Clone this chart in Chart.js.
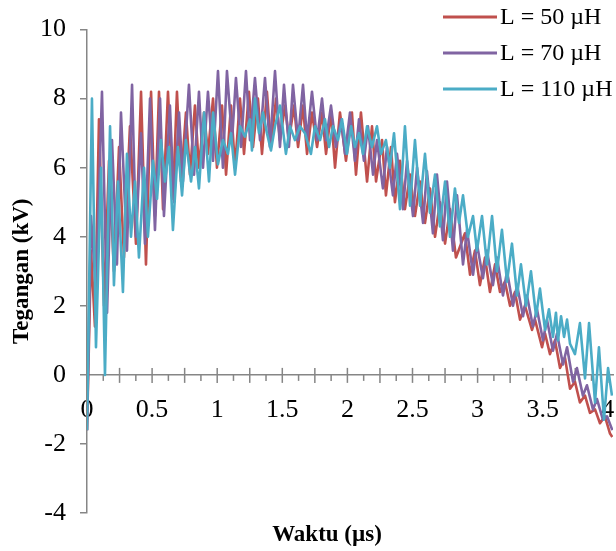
<!DOCTYPE html>
<html>
<head>
<meta charset="utf-8">
<script src="https://cdn.jsdelivr.net/npm/chart.js@4.4.1/dist/chart.umd.min.js"></script>
<style>
  html, body { margin: 0; padding: 0; background: #fff; }
  #wrap { width: 616px; height: 551px; }
</style>
</head>
<body>
<div id="wrap"><canvas id="chart"></canvas></div>
<script>
// series names
const seriesLabels = ['L = 50 µH', 'L = 70 µH', 'L = 110 µH'];

// L = 50 uH  (time in us, voltage in kV)
const time50 = [0.000, 0.031, 0.061, 0.092, 0.131, 0.169, 0.207, 0.246, 0.284, 0.330, 0.376, 0.415, 0.453, 0.492, 0.522, 0.553, 0.584, 0.622, 0.660, 0.691,
  0.722, 0.760, 0.791, 0.829, 0.860, 0.899, 0.929, 0.968, 0.998, 1.037, 1.068, 1.106, 1.137, 1.175, 1.206, 1.244, 1.275, 1.313, 1.344, 1.382,
  1.413, 1.452, 1.482, 1.521, 1.551, 1.590, 1.621, 1.659, 1.690, 1.728, 1.767, 1.805, 1.836, 1.874, 1.905, 1.943, 1.989, 2.035, 2.066, 2.104,
  2.151, 2.189, 2.220, 2.266, 2.296, 2.335, 2.365, 2.404, 2.442, 2.481, 2.519, 2.558, 2.596, 2.634, 2.673, 2.711, 2.750, 2.788, 2.834, 2.903,
  2.942, 2.980, 3.018, 3.057, 3.095, 3.134, 3.172, 3.210, 3.249, 3.287, 3.326, 3.364, 3.418, 3.441, 3.495, 3.518, 3.556, 3.594, 3.633, 3.671,
  3.710, 3.748, 3.786, 3.825, 3.863, 3.902, 3.940, 3.978, 4.017, 4.035];
const volt50 = [-1.6, 3.6, 1.4, 7.4, 2.0, 6.2, 3.0, 6.6, 3.4, 7.2, 3.8, 8.2, 3.2, 8.2, 4.6, 8.2, 4.8, 8.2, 5.1, 8.2,
  5.6, 7.6, 5.8, 7.8, 6.0, 7.6, 6.4, 8.0, 6.0, 7.8, 5.8, 7.8, 6.0, 8.0, 6.4, 8.2, 6.6, 8.0, 6.4, 8.2,
  6.6, 8.0, 6.8, 7.8, 6.8, 7.8, 6.6, 7.8, 6.4, 7.6, 6.6, 7.6, 6.4, 7.6, 6.0, 7.6, 6.2, 7.6, 5.8, 7.6,
  5.6, 7.2, 5.6, 6.8, 5.2, 6.6, 5.0, 6.2, 4.8, 5.8, 4.6, 5.6, 4.4, 5.4, 4.0, 5.0, 3.8, 4.8, 3.4, 4.1,
  2.9, 3.6, 2.6, 3.4, 2.4, 3.2, 2.4, 2.7, 2.0, 2.4, 1.6, 2.0, 1.3, 1.6, 0.8, 1.2, 0.6, 1.0, 0.2, 0.5,
  -0.4, -0.2, -0.8, -0.6, -1.1, -1.0, -1.4, -1.2, -1.7, -1.8];

// L = 70 uH
const time70 = [0.000, 0.031, 0.069, 0.115, 0.154, 0.192, 0.230, 0.261, 0.307, 0.346, 0.376, 0.415, 0.445, 0.484, 0.522, 0.561, 0.591, 0.637, 0.668, 0.707,
  0.737, 0.783, 0.822, 0.860, 0.891, 0.929, 0.968, 1.006, 1.044, 1.075, 1.114, 1.144, 1.183, 1.221, 1.252, 1.290, 1.329, 1.367, 1.405, 1.444,
  1.482, 1.513, 1.551, 1.582, 1.621, 1.659, 1.690, 1.728, 1.767, 1.805, 1.836, 1.874, 1.912, 1.951, 1.982, 2.020, 2.058, 2.089, 2.127, 2.158,
  2.197, 2.227, 2.273, 2.304, 2.350, 2.381, 2.427, 2.458, 2.504, 2.535, 2.581, 2.611, 2.657, 2.688, 2.734, 2.765, 2.811, 2.842, 2.888, 2.919,
  2.965, 2.995, 3.041, 3.072, 3.118, 3.149, 3.195, 3.226, 3.272, 3.303, 3.349, 3.379, 3.425, 3.456, 3.502, 3.533, 3.579, 3.610, 3.656, 3.687,
  3.733, 3.763, 3.809, 3.840, 3.886, 3.917, 3.963, 3.994, 4.035];
const volt70 = [-1.6, 4.6, 2.4, 8.2, 1.8, 6.8, 3.2, 7.6, 3.6, 8.4, 4.0, 7.0, 3.8, 8.0, 4.2, 8.0, 4.6, 7.8, 5.0, 7.6,
  5.6, 8.4, 5.8, 8.2, 6.0, 8.2, 6.2, 8.8, 6.0, 8.8, 6.8, 8.6, 6.6, 8.8, 6.8, 8.6, 6.8, 8.6, 6.6, 8.8,
  6.6, 8.4, 6.6, 8.4, 6.8, 8.4, 6.8, 8.2, 6.8, 8.0, 6.8, 7.8, 6.6, 7.4, 6.4, 7.6, 6.2, 7.4, 6.2, 7.2,
  5.8, 6.8, 5.4, 6.6, 5.2, 6.4, 4.8, 6.2, 4.6, 6.0, 4.4, 5.9, 4.1, 5.8, 3.9, 5.6, 3.6, 5.2, 3.2, 4.2,
  2.9, 3.8, 2.8, 3.6, 2.6, 3.4, 2.3, 3.0, 2.0, 2.6, 1.7, 2.3, 1.4, 1.9, 1.0, 1.6, 0.7, 1.2, 0.3, 0.8,
  -0.2, 0.2, -0.6, -0.3, -1.0, -0.7, -1.3, -1.2, -1.6];

// L = 110 uH
const time110 = [0.000, 0.038, 0.069, 0.108, 0.138, 0.177, 0.207, 0.238, 0.276, 0.307, 0.338, 0.369, 0.399, 0.438, 0.468, 0.507, 0.538, 0.568, 0.599, 0.630,
  0.660, 0.699, 0.730, 0.760, 0.799, 0.829, 0.860, 0.899, 0.937, 0.968, 1.006, 1.044, 1.083, 1.106, 1.137, 1.175, 1.213, 1.252, 1.267, 1.290,
  1.321, 1.352, 1.382, 1.413, 1.444, 1.482, 1.528, 1.559, 1.597, 1.636, 1.674, 1.720, 1.751, 1.790, 1.828, 1.859, 1.889, 1.928, 1.959, 1.997,
  2.028, 2.058, 2.089, 2.120, 2.151, 2.189, 2.227, 2.258, 2.296, 2.327, 2.358, 2.404, 2.442, 2.481, 2.519, 2.558, 2.596, 2.634, 2.673, 2.711,
  2.750, 2.788, 2.826, 2.857, 2.888, 2.926, 2.965, 2.995, 3.034, 3.072, 3.111, 3.149, 3.187, 3.226, 3.264, 3.303, 3.333, 3.372, 3.410, 3.449,
  3.479, 3.518, 3.548, 3.579, 3.602, 3.618, 3.641, 3.664, 3.687, 3.710, 3.748, 3.786, 3.825, 3.856, 3.902, 3.932, 3.971, 4.002, 4.032];
const volt110 = [-1.6, 8.0, 0.8, 6.0, 0.0, 7.2, 2.6, 5.6, 2.4, 6.4, 4.0, 5.6, 3.4, 6.0, 4.0, 6.2, 5.1, 6.8, 5.6, 6.6,
  4.2, 6.6, 5.2, 6.8, 5.6, 6.6, 5.4, 7.6, 5.6, 7.6, 6.1, 6.8, 6.4, 7.0, 5.8, 7.2, 6.9, 7.4, 6.5, 8.0,
  7.0, 7.6, 7.0, 6.5, 7.2, 7.8, 6.4, 7.2, 6.8, 7.2, 7.0, 6.4, 7.2, 6.8, 7.4, 6.6, 7.2, 6.8, 7.4, 6.4,
  7.2, 6.6, 7.0, 6.4, 7.2, 6.6, 7.2, 6.4, 6.8, 6.0, 7.0, 4.8, 7.2, 4.9, 6.8, 4.9, 6.4, 4.7, 5.8, 4.3,
  5.6, 4.0, 5.4, 4.4, 5.2, 4.0, 4.6, 3.6, 4.6, 3.2, 4.6, 3.0, 4.2, 2.7, 3.8, 2.3, 3.2, 2.0, 3.0, 1.7,
  2.5, 1.3, 1.9, 1.1, 1.8, 1.0, 1.7, 1.1, 1.6, 0.9, 0.6, 1.5, -0.1, 1.5, -0.8, 0.8, -1.3, 0.2, -0.6];

// axis ticks
const xTickLabels = [0, 0.5, 1, 1.5, 2, 2.5, 3, 3.5, 4];
const yTickValues = [-4, -2, 0, 2, 4, 6, 8, 10];

const lineColors = ['#C0504D', '#8064A2', '#4BACC6'];
const axisGrey = '#868686';
const serif = '"Liberation Serif", "Times New Roman", serif';

const toPoints = (t, v) => t.map((x, i) => ({ x: x, y: v[i] }));

// x-axis tick marks, axis title and legend
const decorPlugin = {
  id: 'decor',
  beforeDatasetsDraw(chart) {
    const { ctx, scales: { x, y } } = chart;
    const y0 = y.getPixelForValue(0);
    ctx.save();
    ctx.strokeStyle = axisGrey;
    ctx.lineWidth = 1.5;
    x.ticks.forEach(t => {
      const v = t.value;
      if (Math.abs(v * 8 - Math.round(v * 8)) > 1e-6 || v === 0) return;
      const px = x.getPixelForValue(v);
      const major = Math.abs(v * 4 - Math.round(v * 4)) < 1e-6;
      ctx.beginPath();
      ctx.moveTo(px, major ? y0 - 7 : y0);
      ctx.lineTo(px, major ? y0 + 8 : y0 + 6);
      ctx.stroke();
    });
    ctx.restore();
  },
  afterDraw(chart) {
    const { ctx } = chart;
    ctx.save();
    ctx.fillStyle = '#000';
    ctx.font = 'bold 23px ' + serif;
    ctx.textAlign = 'center';
    ctx.textBaseline = 'middle';
    ctx.fillText('Waktu (µs)', 327, 535);

    ctx.font = '24px ' + serif;
    ctx.textAlign = 'left';
    chart.data.datasets.forEach((ds, i) => {
      const ly = 17 + i * 36;
      ctx.strokeStyle = ds.borderColor;
      ctx.lineWidth = 3;
      ctx.beginPath();
      ctx.moveTo(443, ly);
      ctx.lineTo(497, ly);
      ctx.stroke();
      ctx.fillText(ds.label, 500, ly + 1);
    });
    ctx.restore();
  }
};

const ctx = document.getElementById('chart').getContext('2d');
new Chart(ctx, {
  type: 'line',
  data: {
    datasets: [
      { label: seriesLabels[0], data: toPoints(time50, volt50), borderColor: lineColors[0], order: 3 },
      { label: seriesLabels[1], data: toPoints(time70, volt70), borderColor: lineColors[1], order: 2 },
      { label: seriesLabels[2], data: toPoints(time110, volt110), borderColor: lineColors[2], order: 1 }
    ]
  },
  options: {
    responsive: true,
    maintainAspectRatio: false,
    animation: false,
    layout: { padding: { left: 0, right: 3, top: 25, bottom: 38 } },
    elements: {
      point: { radius: 0 },
      line: { borderWidth: 2.6, tension: 0, fill: false, borderJoinStyle: 'round' }
    },
    plugins: {
      legend: { display: false },
      tooltip: { enabled: false }
    },
    scales: {
      x: {
        type: 'linear',
        position: { y: 0 },
        min: 0,
        max: 4.04,
        afterFit: s => { s.paddingLeft = 0; s.paddingRight = 0; },
        grid: { display: true, drawOnChartArea: false, drawTicks: false },
        border: { color: axisGrey, width: 1.5 },
        ticks: {
          stepSize: 0.125,
          includeBounds: false,
          autoSkip: false,
          maxRotation: 0,
          padding: 20,
          color: '#000',
          font: { family: serif, size: 26 },
          callback: v => xTickLabels.includes(v) ? String(v) : ''
        }
      },
      y: {
        min: -4,
        max: 10,
        afterFit: s => { s.width = 87; },
        afterBuildTicks: s => { s.ticks = yTickValues.map(v => ({ value: v })); },
        grid: { drawOnChartArea: false, drawTicks: true, tickLength: 7, color: axisGrey, lineWidth: 1.5 },
        border: { color: axisGrey, width: 1.5 },
        ticks: {
          padding: 14,
          color: '#000',
          font: { family: serif, size: 26 }
        },
        title: {
          display: true,
          text: 'Tegangan (kV)',
          color: '#000',
          font: { family: serif, size: 23, weight: 'bold' },
          padding: { top: 8, bottom: 0 }
        }
      }
    }
  },
  plugins: [decorPlugin]
});
</script>
</body>
</html>
